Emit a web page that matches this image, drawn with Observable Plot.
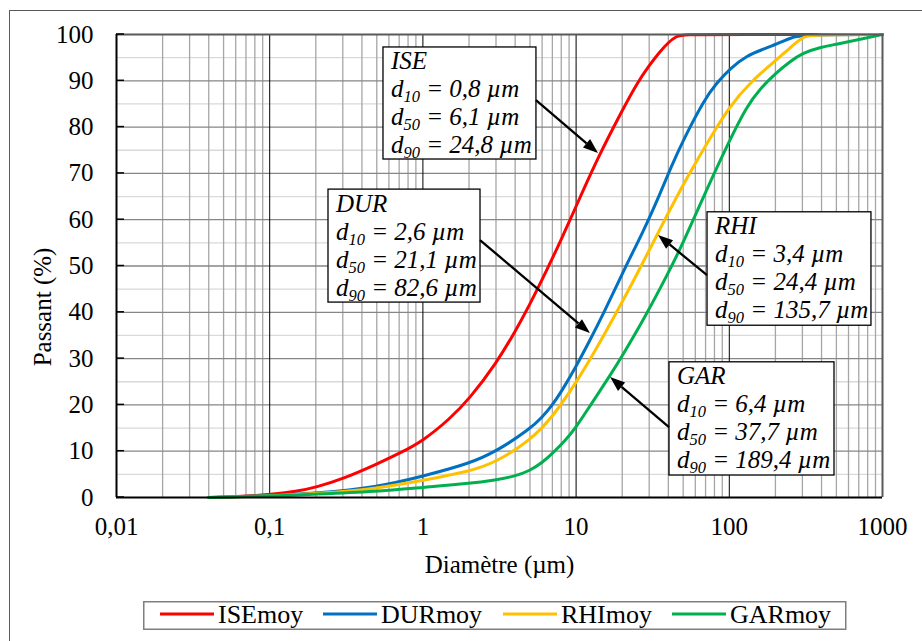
<!DOCTYPE html>
<html><head><meta charset="utf-8">
<script src="https://cdn.jsdelivr.net/npm/d3@7"></script>
<script src="https://cdn.jsdelivr.net/npm/@observablehq/plot@0.6"></script>
<style>
html,body{margin:0;padding:0;background:#fff;}
#wrap{position:relative;width:922px;height:641px;overflow:hidden;font-family:"Liberation Serif","Times New Roman",serif;background:#fff;}
#frame{position:absolute;left:9px;top:10px;width:1000px;height:1000px;border:1.5px solid #595959;box-sizing:border-box;}
#chart{position:absolute;left:0;top:0;}
#legend{position:absolute;left:143px;top:601px;}
</style></head>
<body>
<div id="wrap"><div id="frame"></div><div id="chart"></div><div id="legend"></div></div>
<script>
// ---- data ----
const seriesNames = ["ISEmoy", "DURmoy", "RHImoy", "GARmoy"];
const seriesColors = ["#FF0000", "#0070C0", "#FFC000", "#00B050"];

const ISE_d = [0.04, 0.06, 0.1, 0.15, 0.2, 0.3, 0.5, 0.7, 1, 1.5, 2, 3, 4, 5, 6, 8, 10, 14, 20, 25, 30, 35, 40, 45, 50, 100, 1000];
const ISE_p = [0, 0.15, 0.6, 1.3, 2.2, 4.0, 7.2, 9.5, 12.2, 17, 21.2, 28.9, 35.8, 41.8, 47.0, 55.7, 62.9, 73.7, 83.6, 89.5, 93.3, 96.2, 98.3, 99.6, 100, 100, 100];

const DUR_d = [0.04, 0.1, 0.2, 0.5, 1, 2, 3, 5, 6, 7, 8, 10, 12.1, 15, 21.1, 27.5, 35, 41.6, 50, 68.8, 82.6, 102, 132, 160, 206, 250, 292, 1000];
const DUR_p = [0, 0.4, 0.9, 2.2, 4.6, 7.3, 9.9, 14.8, 17.3, 20, 22.8, 28.3, 33.5, 39.5, 50, 57.5, 65.3, 71.3, 77.2, 86, 89.5, 92.8, 95.5, 96.6, 98.0, 99.2, 100, 100];

const RHI_d = [0.04, 0.1, 0.2, 0.5, 1, 2, 3, 5, 7, 10, 13, 20, 24.4, 30, 40, 50, 70, 100, 140, 200, 250, 300, 340, 1000];
const RHI_p = [0, 0.3, 0.8, 1.9, 3.7, 5.6, 7.6, 12.3, 17.3, 24.8, 31, 42.2, 47.6, 53.4, 61.5, 67.6, 76, 84.5, 90, 94.3, 97.2, 99.4, 100, 100];

const GAR_d = [0.04, 0.1, 0.2, 0.5, 1, 2, 3, 4, 5, 6, 7, 8.5, 10, 12, 17, 20, 28, 40, 50, 70, 100, 130, 160, 200, 250, 300, 400, 500, 700, 1000];
const GAR_p = [0, 0.3, 0.7, 1.3, 2.2, 3.0, 3.8, 4.6, 5.8, 7.5, 9.5, 12.3, 15.2, 19.2, 26.8, 30.6, 38.8, 48.5, 55, 66, 77, 84.5, 88.4, 91.6, 94.2, 96, 97.3, 97.9, 98.9, 100];

const xTicks = [0.01, 0.1, 1, 10, 100, 1000];
const xTickLabels = ["0,01", "0,1", "1", "10", "100", "1000"];
const yTicks = [0, 10, 20, 30, 40, 50, 60, 70, 80, 90, 100];
const xLabel = "Diamètre (µm)";
const yLabel = "Passant (%)";

// callout texts
const calloutNames = ["ISE", "DUR", "RHI", "GAR"];
const calloutD10 = ["0,8", "2,6", "3,4", "6,4"];
const calloutD50 = ["6,1", "21,1", "24,4", "37,7"];
const calloutD90 = ["24,8", "82,6", "135,7", "189,4"];
// callout placement (data units: µm, %)
const boxX1 = [0.553, 0.242, 72.1, 40.7];
const boxX2 = [5.51, 2.377, 847, 486];
const boxYTop = [97.2, 66.5, 61.6, 29.2];
const boxYBottom = [73.0, 42.1, 37.1, 4.75];
const arrowFromX = [5.51, 2.377, 72.1, 40.7];
const arrowFromY = [85.7, 55.5, 47.9, 15.1];
const arrowToX = [14.0, 12.4, 34.5, 16.8];
const arrowToY = [74.3, 35.4, 56.6, 25.9];

// ---- build ----
const seriesD = [ISE_d, DUR_d, RHI_d, GAR_d];
const seriesP = [ISE_p, DUR_p, RHI_p, GAR_p];
const series = seriesNames.map((name, k) => seriesD[k].map((d, i) => ({name, d, p: seriesP[k][i]})));

const minorX = [];
for (let e = -2; e <= 2; e++) for (let m = 2; m <= 9; m++) minorX.push(+(m * Math.pow(10, e)).toPrecision(3));
const majorX = [0.1, 1, 10, 100];
const minorY = yTicks.slice(0, -1).map(v => v + 5);
const majorY = yTicks.slice(1, -1);

const boxes = calloutNames.map((n, i) => ({x1: boxX1[i], x2: boxX2[i], y1: boxYBottom[i], y2: boxYTop[i]}));

// inner tick marks on the y axis
function innerTicks(index, scales) {
  const sx = scales.x, sy = scales.y;
  const g = d3.create("svg:g");
  const x0 = sx(xTicks[0]);
  yTicks.forEach(v => {
    g.append("line").attr("x1", x0).attr("x2", x0 + 8).attr("y1", sy(v)).attr("y2", sy(v))
      .attr("stroke", "#000").attr("stroke-width", 1.5);
  });
  return g.node();
}

function callouts(index, scales) {
  const sx = scales.x, sy = scales.y;
  const g = d3.create("svg:g");
  calloutNames.forEach((name, i) => {
    // arrow
    const x0 = sx(arrowFromX[i]), y0 = sy(arrowFromY[i]);
    const x1 = sx(arrowToX[i]), y1 = sy(arrowToY[i]);
    const a = Math.atan2(y1 - y0, x1 - x0);
    const L = 15, W = 5.5;
    const bx = x1 - L * Math.cos(a), by = y1 - L * Math.sin(a);
    g.append("line").attr("x1", x0).attr("y1", y0).attr("x2", bx).attr("y2", by)
      .attr("stroke", "#000").attr("stroke-width", 2.3);
    g.append("path")
      .attr("d", `M${x1},${y1}L${bx - W * Math.sin(a)},${by + W * Math.cos(a)}L${bx + W * Math.sin(a)},${by - W * Math.cos(a)}Z`)
      .attr("fill", "#000");
    // text
    const left = sx(boxX1[i]) + 8, top = sy(boxYTop[i]);
    const t = g.append("text").attr("font-style", "italic").attr("font-size", 25)
      .attr("text-anchor", "start").attr("fill", "#000").style("white-space", "pre");
    t.append("tspan").attr("x", left).attr("y", top + 22.5).text(name);
    [["10", calloutD10[i]], ["50", calloutD50[i]], ["90", calloutD90[i]]].forEach(([sub, val], j) => {
      const y = top + 50.5 + j * 28;
      t.append("tspan").attr("x", left).attr("y", y).text("d");
      t.append("tspan").attr("dy", 5).attr("font-size", 16.5).text(sub);
      t.append("tspan").attr("dy", -5).text(` = ${val} µm`);
    });
  });
  return g.node();
}

const plot = Plot.plot({
  width: 922,
  height: 585,
  marginLeft: 116,
  marginRight: 40,
  marginTop: 34,
  marginBottom: 88,
  style: {fontFamily: "'Liberation Serif','Times New Roman',serif", fontSize: "25px", color: "#000", background: "transparent", overflow: "visible"},
  x: {type: "log", domain: [0.01, 1000], ticks: xTicks, tickFormat: d => xTickLabels[xTicks.indexOf(d)], tickSize: 0, tickPadding: 20, label: null},
  y: {domain: [0, 100], ticks: yTicks, tickSize: 0, tickPadding: 23, label: null},
  marks: [
    Plot.ruleY(minorY, {stroke: "#d9d9d9", strokeWidth: 1.3}),
    Plot.ruleX(minorX, {stroke: "#a6a6a6", strokeWidth: 1.3}),
    Plot.ruleY(majorY, {stroke: "#868686", strokeWidth: 1.3}),
    Plot.ruleX(majorX, {stroke: "#000", strokeWidth: 1}),
    ...series.map((s, k) => Plot.line(s, {x: "d", y: "p", stroke: seriesColors[k], strokeWidth: 3, curve: "basis"})),
    Plot.ruleY([100], {stroke: "#595959", strokeWidth: 2}),
    Plot.ruleX([1000], {stroke: "#595959", strokeWidth: 2}),
    Plot.ruleY([0], {stroke: "#000", strokeWidth: 2}),
    Plot.ruleX([0.01], {stroke: "#000", strokeWidth: 2}),
    innerTicks,
    Plot.rect(boxes, {x1: "x1", x2: "x2", y1: "y1", y2: "y2", fill: "#fff", stroke: "#000", strokeWidth: 1.3}),
    callouts,
    Plot.text([xLabel], {frameAnchor: "bottom", textAnchor: "middle", lineAnchor: "bottom", dy: 75, fontSize: 25}),
    Plot.text([yLabel], {frameAnchor: "left", textAnchor: "middle", lineAnchor: "bottom", rotate: -90, dx: -66, dy: 41, fontSize: 25})
  ]
});
document.getElementById("chart").appendChild(plot);

// ---- legend (below the chart) ----
const legendSwatchX = [17, 180, 360, 529];
const lg = d3.select("#legend").append("svg").attr("width", 704).attr("height", 30)
  .style("font-family", "'Liberation Serif','Times New Roman',serif");
lg.append("rect").attr("x", 0.75).attr("y", 0.75).attr("width", 702).attr("height", 27.5)
  .attr("fill", "#fff").attr("stroke", "#7f7f7f").attr("stroke-width", 1.5);
seriesNames.forEach((n, k) => {
  lg.append("line").attr("x1", legendSwatchX[k]).attr("x2", legendSwatchX[k] + 54)
    .attr("y1", 13).attr("y2", 13).attr("stroke", seriesColors[k]).attr("stroke-width", 3);
  lg.append("text").attr("x", legendSwatchX[k] + 58).attr("y", 22).attr("font-size", 26).text(n);
});
</script>
</body></html>
